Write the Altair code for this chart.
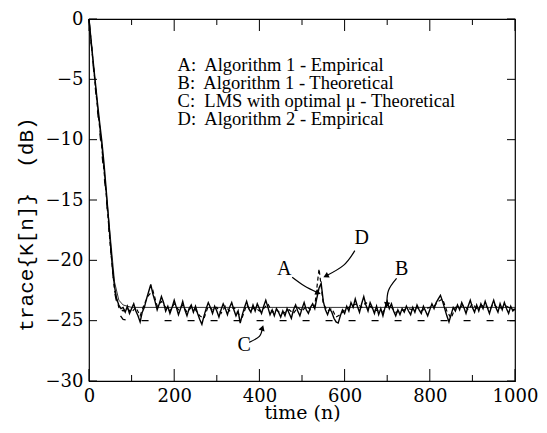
import altair as alt
import pandas as pd

# ---------------- data ----------------
n_a = list(range(0, 1001, 5))
trace_a = [
    0.0, -1.8, -3.6, -5.3, -7.0, -8.6, -10.1, -11.9, -14.0, -16.2,
    -18.5, -20.6, -22.2, -23.2, -23.7, -24.0, -23.9, -24.3, -23.8, -24.4,
    -24.0, -23.6, -24.2, -24.6, -25.1, -24.3, -23.9, -23.2, -22.6, -22.0,
    -22.8, -23.4, -24.1, -23.6, -23.0, -23.5, -24.2, -23.8, -24.4, -23.9,
    -23.3, -23.9, -24.5, -24.0, -23.4, -24.1, -24.6, -24.0, -23.7, -24.3,
    -23.8, -24.4, -24.9, -25.3, -24.6, -24.0, -23.5, -23.9, -24.4, -23.8,
    -24.2, -24.7, -24.1, -23.6, -24.0, -24.5, -23.9, -23.5, -24.1, -24.6,
    -24.2, -25.2, -24.5, -23.9, -23.4, -24.0, -24.3, -23.7, -24.2, -23.6,
    -24.0, -24.4, -23.8, -23.3, -23.9, -24.5, -24.1, -24.6, -24.0, -24.3,
    -24.7, -24.2, -24.6, -24.0, -24.4, -24.8, -24.1, -23.7, -24.2, -24.6,
    -24.0, -23.5, -24.1, -24.4, -23.9, -23.6, -24.0, -23.1, -22.3, -21.9,
    -23.4, -24.1, -24.5, -24.0, -24.3, -24.8, -25.1, -25.2, -24.6, -24.1,
    -24.4, -23.8, -24.2, -23.5, -23.9, -23.2, -23.8, -24.3, -23.6, -23.0,
    -23.7, -24.2, -23.5, -23.9, -24.4, -23.8, -24.5, -24.0, -24.6, -23.9,
    -23.4, -24.0, -23.6, -24.2, -24.6, -24.1, -24.5, -24.0, -24.3, -23.8,
    -24.2, -24.5, -23.9, -24.3, -23.7, -24.1, -24.4, -23.8, -24.2, -24.6,
    -24.1, -23.6, -24.0, -23.5, -23.2, -22.9, -23.4, -24.0, -24.6, -25.1,
    -24.5, -23.9, -24.2, -23.7, -24.1, -23.5, -23.9, -24.4, -23.8, -23.3,
    -23.9, -24.3, -23.7, -24.2, -23.6, -24.0, -23.4, -23.9, -24.4, -23.8,
    -23.3, -23.9, -24.3, -23.6, -24.1, -23.5, -24.0, -24.4, -23.8, -24.2,
    -24.0,
]

n_d = list(range(0, 1001, 10))
trace_d = [
    0.0, -3.8, -7.4, -10.6, -14.4, -18.8, -22.5, -23.9, -24.2, -24.0,
    -24.3, -23.9, -24.6, -23.6, -22.9, -22.5, -23.8, -23.4, -23.9, -24.2,
    -23.6, -24.1, -23.7, -24.3, -23.9, -24.1, -24.6, -24.8, -23.8, -24.1,
    -23.9, -24.4, -23.8, -24.2, -23.9, -24.4, -24.7, -23.7, -24.1, -23.9,
    -24.2, -24.0, -23.6, -24.3, -24.1, -24.4, -24.3, -24.1, -24.4, -23.9,
    -24.2, -23.8, -24.1, -23.8, -20.7, -23.6, -24.2, -24.0, -24.7, -24.5,
    -24.1, -23.9, -23.7, -23.6, -23.9, -23.5, -23.8, -24.1, -24.2, -24.3,
    -23.7, -23.9, -24.3, -24.2, -24.1, -24.0, -24.1, -23.9, -24.2, -24.0,
    -23.9, -23.8, -23.4, -23.2, -24.2, -24.8, -23.9, -23.9, -23.7, -24.1,
    -23.6, -24.0, -23.8, -23.7, -24.1, -23.6, -24.0, -23.9, -23.8, -24.0,
    -24.1,
]

n_b = [0, 10, 20, 30, 40, 50, 60, 70, 80, 100, 1000]
trace_b = [0.0, -3.7, -7.2, -10.5, -14.2, -18.0, -21.8, -23.3, -23.7, -23.9, -23.9]

n_c = [0, 10, 20, 30, 40, 50, 60, 70, 80, 100, 1000]
trace_c = [0.0, -3.9, -7.6, -11.0, -14.6, -18.6, -22.6, -24.4, -24.9, -25.0, -25.0]

legend_lines = [
    "A:\u00a0 Algorithm 1 - Empirical",
    "B:\u00a0 Algorithm 1 - Theoretical",
    "C:\u00a0 LMS with optimal \u03bc - Theoretical",
    "D:\u00a0 Algorithm 2 - Empirical",
]
legend_n = [208, 208, 208, 208]
legend_v = [-4.3, -5.8, -7.3, -8.8]

label_text = ["A", "B", "C", "D"]
label_n = [458, 734, 364, 640]
label_v = [-20.7, -20.7, -27.0, -18.15]

arrow_id = ["A", "A", "A", "B", "B", "B", "C", "C", "C", "D", "D", "D"]
arrow_ord = [0, 1, 2, 0, 1, 2, 0, 1, 2, 0, 1, 2]
arrow_n = [477, 505, 538, 722, 703, 699, 376, 400, 407, 624, 598, 556]
arrow_v = [-21.4, -22.1, -22.7, -21.5, -22.5, -23.7, -26.8, -26.3, -25.6, -19.2, -20.4, -21.3]
head_n = [538, 699, 407, 556]
head_v = [-22.7, -23.7, -25.6, -21.3]
head_angle = [25, 98, 288, 153]

x_major = [0, 200, 400, 600, 800, 1000]
x_minor = [100, 300, 500, 700, 900]
y_ticks = [-30, -25, -20, -15, -10, -5, 0]

# ---------------- chart ----------------
W, H = 426, 362
xs = alt.Scale(domain=[0, 1000], nice=False, zero=False)
ys = alt.Scale(domain=[-30, 0], nice=False, zero=False)

xaxis = alt.Axis(values=x_major, ticks=False, tickSize=0, domain=False, grid=False, format="d",
                 labelFont="DejaVu Serif", labelFontSize=18, labelColor="black",
                 labelPadding=6, title="time (n)", titleFont="DejaVu Serif",
                 titleFontSize=19, titleFontWeight="normal", titleColor="black",
                 titlePadding=-2, labelFlush=False)
yaxis = alt.Axis(values=y_ticks, ticks=False, tickSize=0, domain=False, grid=False, format="d",
                 labelFont="DejaVu Serif", labelFontSize=18, labelColor="black",
                 labelPadding=6, title="trace{K[n]}\u00a0 (dB)", titleFont="Liberation Mono",
                 titleFontSize=21, titleFontWeight="normal", titleColor="black",
                 titleX=-63, titleY=205, titleAlign="center", titleBaseline="middle",
                 labelFlush=False)

X = alt.X("n:Q", scale=xs, axis=xaxis, title="time (n)")
Y = alt.Y("v:Q", scale=ys, axis=yaxis, title="trace{K[n]}\u00a0 (dB)")
XT = alt.X("t:Q", scale=xs, axis=xaxis, title="time (n)")
YT = alt.Y("t:Q", scale=ys, axis=yaxis, title="trace{K[n]}\u00a0 (dB)")

df_a = pd.DataFrame({"n": n_a, "v": trace_a})
df_d = pd.DataFrame({"n": n_d, "v": trace_d})
df_b = pd.DataFrame({"n": n_b, "v": trace_b})
df_c = pd.DataFrame({"n": n_c, "v": trace_c})

line_a = alt.Chart(df_a).mark_line(color="black", strokeWidth=1.4).encode(x=X, y=Y)
line_d = alt.Chart(df_d).mark_line(color="black", strokeWidth=1.2, strokeDash=[4, 3]).encode(x=X, y=Y)
line_b = alt.Chart(df_b).mark_line(color="black", strokeWidth=0.8).encode(x=X, y=Y)
line_c = alt.Chart(df_c).mark_line(color="black", strokeWidth=1.3, strokeDash=[7, 16]).encode(x=X, y=Y)

df_leg = pd.DataFrame({"t": legend_lines, "n": legend_n, "v": legend_v})
legend = alt.Chart(df_leg).mark_text(font="Liberation Serif", fontSize=18.5, align="left",
                                     baseline="alphabetic", color="black").encode(
    x=X, y=Y, text="t:N")

df_lab = pd.DataFrame({"t": label_text, "n": label_n, "v": label_v})
labels = alt.Chart(df_lab).mark_text(font="Liberation Serif", fontSize=20, align="center",
                                     baseline="middle", color="black").encode(
    x=X, y=Y, text="t:N")

df_arr = pd.DataFrame({"id": arrow_id, "o": arrow_ord, "n": arrow_n, "v": arrow_v})
arrows = alt.Chart(df_arr).mark_line(color="black", strokeWidth=1.2, interpolate="cardinal").encode(
    x=X, y=Y, detail="id:N", order="o:Q")

df_head = pd.DataFrame({"n": head_n, "v": head_v, "a": head_angle})
heads = alt.Chart(df_head).mark_point(shape="triangle-right", filled=True, color="black",
                                      size=40, opacity=1).encode(
    x=X, y=Y, angle=alt.Angle("a:Q", scale=None))

df_xmaj = pd.DataFrame({"t": x_major})
df_xmin = pd.DataFrame({"t": x_minor})
df_yt = pd.DataFrame({"t": y_ticks})

def xt(df, y1, y2):
    return alt.Chart(df).mark_rule(color="black", strokeWidth=1).encode(
        x=XT, y=alt.value(y1), y2=alt.value(y2))

def yt(df, x1, x2):
    return alt.Chart(df).mark_rule(color="black", strokeWidth=1).encode(
        y=YT, x=alt.value(x1), x2=alt.value(x2))

ticks = [
    xt(df_xmaj, H, H - 12), xt(df_xmin, H, H - 6),
    xt(df_xmaj, 0, 12), xt(df_xmin, 0, 6),
    yt(df_yt, 0, 8), yt(df_yt, W, W - 8),
]

chart = alt.layer(line_a, line_d, line_b, line_c, *ticks, legend, labels, arrows, heads).properties(
    width=W, height=H,
    autosize=alt.AutoSizeParams(type="none"),
    padding={"left": 81, "top": 11, "right": 24, "bottom": 44},
    background="white",
).configure_view(stroke="black", strokeWidth=1.2)

chart.save("out.html", embed_options={"renderer": "svg", "actions": False})
